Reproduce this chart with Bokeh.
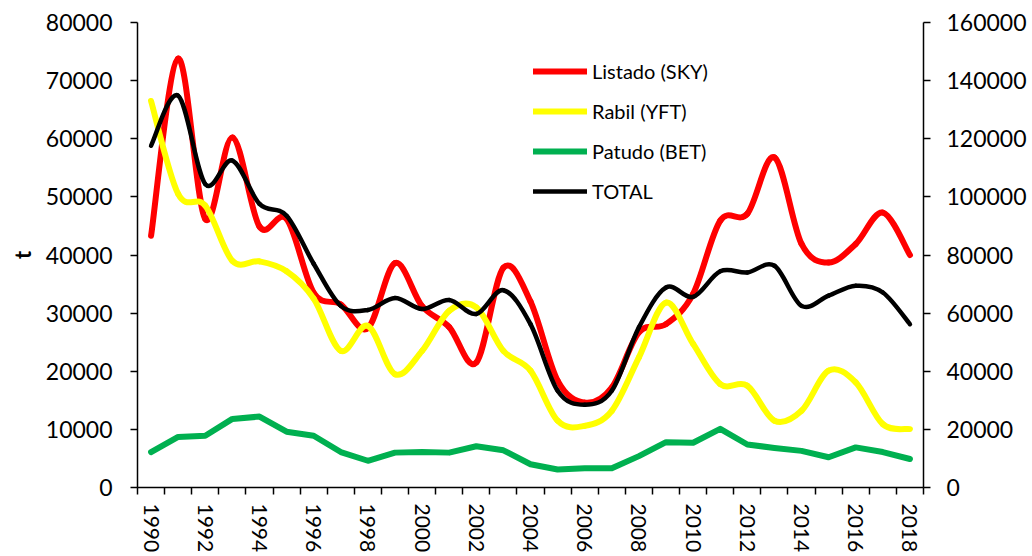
import numpy as np
from bokeh.plotting import figure
from bokeh.models import Range1d, LinearAxis, FixedTicker, Legend, LegendItem, NumeralTickFormatter
from bokeh.embed import file_html
from bokeh.resources import INLINE

years = list(range(1990, 2019))
year_labels = list(range(1990, 2019, 2))
left_ticks = list(range(0, 80001, 10000))
right_ticks = list(range(0, 160001, 20000))

sky = [43300, 73800, 46200, 60200, 44900, 46200, 33500, 31500, 27400, 38600,
       31200, 27600, 21500, 37800, 32000, 18400, 14600, 17200, 26700, 28100,
       33300, 45900, 47100, 56800, 41900, 38700, 41900, 47300, 40000]
yft = [66500, 50500, 48500, 39000, 38900, 37200, 32500, 23500, 27800, 19500,
       23500, 30400, 31000, 23500, 20100, 11500, 10600, 13200, 22400, 31800,
       24700, 17800, 17500, 11500, 13200, 20100, 18100, 10900, 10050]
bet = [6100, 8700, 8900, 11800, 12200, 9600, 8900, 6100, 4600, 6000,
       6100, 6000, 7100, 6400, 4000, 3100, 3300, 3300, 5400, 7800,
       7700, 10100, 7400, 6800, 6300, 5200, 6900, 6100, 4900]
total = [117600, 134800, 104400, 112500, 97600, 93500, 77000, 62500, 61100, 65200,
         61400, 64500, 59700, 67900, 56200, 33300, 28500, 33300, 55100, 68800,
         65600, 74400, 74000, 76300, 62500, 66000, 69400, 67100, 56200]

FONT = "Lato"


def smooth_segments(xs, ys):
    xs = np.asarray(xs, dtype=float)
    ys = np.asarray(ys, dtype=float)
    xp = np.r_[xs[0], xs, xs[-1]]
    yp = np.r_[ys[0], ys, ys[-1]]
    n = len(xs)
    seg = {}
    seg["x0"] = xs[:-1]
    seg["y0"] = ys[:-1]
    seg["x1"] = xs[1:]
    seg["y1"] = ys[1:]
    seg["cx0"] = xs[:-1] + (xp[2:n + 1] - xp[0:n - 1]) / 6.0
    seg["cy0"] = ys[:-1] + (yp[2:n + 1] - yp[0:n - 1]) / 6.0
    seg["cx1"] = xs[1:] - (xp[3:n + 2] - xp[1:n]) / 6.0
    seg["cy1"] = ys[1:] - (yp[3:n + 2] - yp[1:n]) / 6.0
    return seg


p = figure(width=1032, height=556, output_backend="svg", toolbar_location=None,
           x_range=Range1d(1989.5, 2018.5), y_range=Range1d(0, 80000),
           min_border_left=137, min_border_right=109, min_border_top=22,
           min_border_bottom=69)
p.extra_y_ranges = {"right": Range1d(0, 160000)}
p.outline_line_color = None
p.grid.visible = False
p.background_fill_color = "white"
p.border_fill_color = "white"

# x axis
xa = p.xaxis[0]
xa.ticker = FixedTicker(ticks=year_labels, minor_ticks=[y - 0.5 for y in years] + [years[-1] + 0.5])
xa.major_tick_out = 0
xa.major_tick_in = 0
xa.minor_tick_out = 7
xa.minor_tick_in = 0
xa.minor_tick_line_color = "black"
xa.minor_tick_line_width = 1.5
xa.axis_line_color = "black"
xa.axis_line_width = 1.5
xa.major_label_orientation = "vertical"
xa.major_label_standoff = 9
xa.major_label_text_font = FONT
xa.major_label_text_font_size = "21px"
xa.major_label_text_color = "black"

# left axis
ya = p.yaxis[0]
ya.ticker = FixedTicker(ticks=left_ticks)
ya.formatter = NumeralTickFormatter(format="0")
ya.major_tick_out = 7
ya.major_tick_in = 0
ya.minor_tick_out = 0
ya.minor_tick_in = 0
ya.major_tick_line_color = "black"
ya.major_tick_line_width = 1.5
ya.axis_line_color = "black"
ya.axis_line_width = 1.5
ya.major_label_standoff = 18
ya.major_label_text_font = FONT
ya.major_label_text_font_size = "23px"
ya.major_label_text_color = "black"
ya.axis_label = "t"
ya.axis_label_text_font = FONT
ya.axis_label_text_font_style = "bold"
ya.axis_label_text_font_size = "22px"
ya.axis_label_text_color = "black"
ya.axis_label_standoff = 7

# right axis
ra = LinearAxis(y_range_name="right", ticker=FixedTicker(ticks=right_ticks),
                formatter=NumeralTickFormatter(format="0"))
ra.major_tick_out = 7
ra.major_tick_in = 0
ra.minor_tick_out = 0
ra.minor_tick_in = 0
ra.major_tick_line_color = "black"
ra.major_tick_line_width = 1.5
ra.axis_line_color = "black"
ra.axis_line_width = 1.5
ra.major_label_standoff = 16
ra.major_label_text_font = FONT
ra.major_label_text_font_size = "23px"
ra.major_label_text_color = "black"
p.add_layout(ra, "right")

s = smooth_segments(years, sky)
r_sky = p.bezier(x0=s["x0"], y0=s["y0"], x1=s["x1"], y1=s["y1"], cx0=s["cx0"], cy0=s["cy0"],
                 cx1=s["cx1"], cy1=s["cy1"], line_color="#FF0000", line_width=6, line_cap="round")
s = smooth_segments(years, yft)
r_yft = p.bezier(x0=s["x0"], y0=s["y0"], x1=s["x1"], y1=s["y1"], cx0=s["cx0"], cy0=s["cy0"],
                 cx1=s["cx1"], cy1=s["cy1"], line_color="#FFFF00", line_width=6, line_cap="round")
r_bet = p.line(years, bet, line_color="#00B050", line_width=6, line_join="round", line_cap="round")
s = smooth_segments(years, total)
r_tot = p.bezier(x0=s["x0"], y0=s["y0"], x1=s["x1"], y1=s["y1"], cx0=s["cx0"], cy0=s["cy0"],
                 cx1=s["cx1"], cy1=s["cy1"], line_color="#000000", line_width=4.5, line_cap="round",
                 y_range_name="right")

legend = Legend(items=[LegendItem(label="Listado (SKY)", renderers=[r_sky]),
                       LegendItem(label="Rabil (YFT)", renderers=[r_yft]),
                       LegendItem(label="Patudo (BET)", renderers=[r_bet]),
                       LegendItem(label="TOTAL", renderers=[r_tot])],
                location=(396, 284), orientation="vertical",
                glyph_width=54, glyph_height=24, label_height=24, spacing=16,
                padding=0, margin=0, label_standoff=5,
                border_line_color=None, background_fill_alpha=0,
                label_text_font=FONT, label_text_font_size="20px", label_text_color="black")
p.add_layout(legend)

open("out.html", "w").write(file_html(p, INLINE))
